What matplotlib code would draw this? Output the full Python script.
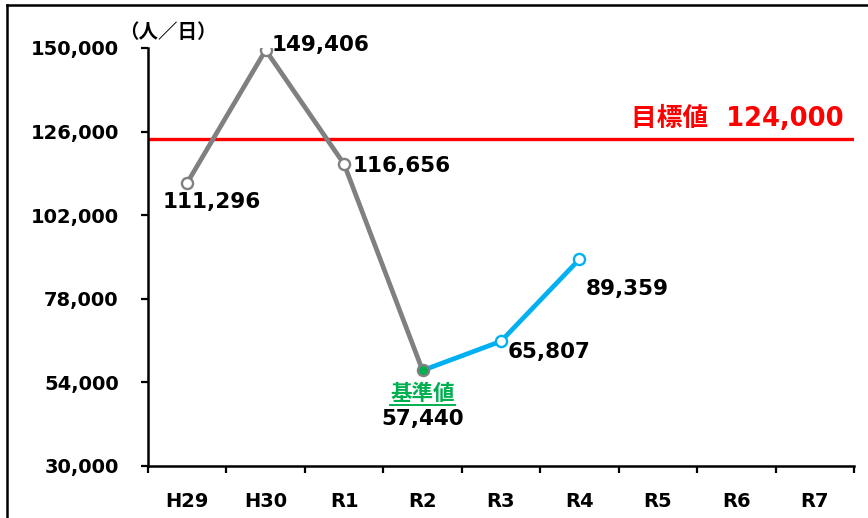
import matplotlib
matplotlib.use("Agg")
import matplotlib.pyplot as plt
from matplotlib.lines import Line2D

categories = ["H29", "H30", "R1", "R2", "R3", "R4", "R5", "R6", "R7"]
past_values = [111296, 149406, 116656, 57440]      # H29..R2
recent_values = [57440, 65807, 89359]              # R2..R4
target_value = 124000
yticks = [30000, 54000, 78000, 102000, 126000, 150000]

LAT = ["DejaVu Sans", "Noto Sans CJK JP"]
CJK = ["Noto Sans CJK JP", "DejaVu Sans"]

fig = plt.figure(figsize=(8.68, 5.18), dpi=100)
ax = fig.add_axes([148/868, 1-466/518, (854-148)/868, (466-48)/518])

x_past = list(range(0, 4))
x_recent = list(range(3, 6))

gray = "#808080"
blue = "#00B0F0"
green = "#00B050"

ax.plot(x_past, past_values, color=gray, lw=3.4, zorder=3, solid_capstyle="round")
ax.plot(x_recent, recent_values, color=blue, lw=3.4, zorder=3, solid_capstyle="round")
ax.plot(x_past[:3], past_values[:3], ls="none", marker="o", ms=8, mfc="white",
        mec=gray, mew=1.7, zorder=4)
ax.plot(x_recent[1:], recent_values[1:], ls="none", marker="o", ms=8, mfc="white",
        mec=blue, mew=1.7, zorder=4)
ax.plot([3], [past_values[3]], ls="none", marker="o", ms=8, mfc=green,
        mec=gray, mew=1.7, zorder=5)

ax.axhline(target_value, color="#FF0000", lw=2.4, zorder=2)

ax.set_xlim(-0.5, len(categories) - 0.5)
ax.set_ylim(30000, 150000)
ax.set_yticks(yticks)
ax.set_yticklabels([f"{v:,}" for v in yticks], fontsize=14, fontweight="bold", family=LAT)
ax.set_xticks(range(len(categories)))
ax.set_xticklabels(categories, fontsize=14, fontweight="bold", family=LAT)
ax.set_xticks([i - 0.5 for i in range(len(categories) + 1)], minor=True)
ax.tick_params(axis="x", which="major", length=0, pad=19)
ax.tick_params(axis="x", which="minor", length=5, width=1.6, direction="out")
ax.tick_params(axis="y", length=5, width=1.6, direction="out", pad=16)
for s in ["top", "right"]:
    ax.spines[s].set_visible(False)
for s in ["left", "bottom"]:
    ax.spines[s].set_linewidth(1.8)

def lab(xi, yv, txt, dx, dy, ha="left", **kw):
    ax.annotate(txt, (xi, yv), xytext=(dx, dy), textcoords="offset pixels",
                ha=ha, va="center", fontsize=15.5, fontweight="bold",
                family=LAT, zorder=6, **kw)

lab(0, past_values[0], f"{past_values[0]:,}", 24, -19, ha="center")
lab(1, past_values[1], f"{past_values[1]:,}", 6, 5)
lab(2, past_values[2], f"{past_values[2]:,}", 8, -2)
lab(3, past_values[3], f"{past_values[3]:,}", 0, -49, ha="center")
lab(4, recent_values[1], f"{recent_values[1]:,}", 7, -11)
lab(5, recent_values[2], f"{recent_values[2]:,}", 6, -30)

base = ax.annotate("基準値", (3, past_values[3]), xytext=(0, -23), textcoords="offset pixels",
                   ha="center", va="center", fontsize=15.5, fontweight="bold",
                   color=green, family=CJK, zorder=6)

ax.text(0.985, target_value + 2000, "目標値  124,000", transform=ax.get_yaxis_transform(),
        ha="right", va="bottom", fontsize=18.5, fontweight="bold", color="#FF0000",
        family=LAT)

fig.text(119/868, 1-33/518, "（人／日）", ha="left", va="center", fontsize=14,
         fontweight="bold", family=CJK)

# frame
fig.add_artist(Line2D([7/868, 7/868], [0, 1-5/518], transform=fig.transFigure,
                      color="black", lw=1.8))
fig.add_artist(Line2D([7/868, 1], [1-5/518, 1-5/518], transform=fig.transFigure,
                      color="black", lw=1.8))

# underline for 基準値
fig.canvas.draw()
bb = base.get_window_extent(fig.canvas.get_renderer())
yline = bb.y0 - 1
fig.add_artist(Line2D([bb.x0 / fig.bbox.width, bb.x1 / fig.bbox.width],
                      [yline / fig.bbox.height, yline / fig.bbox.height],
                      transform=fig.transFigure, color=green, lw=1.4))

fig.savefig("out.png", dpi=100)
